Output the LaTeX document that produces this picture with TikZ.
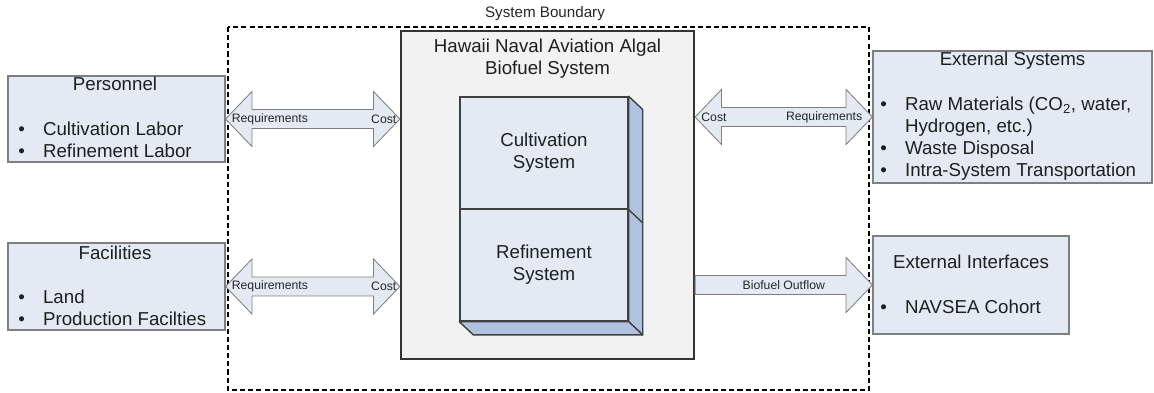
\documentclass[tikz,border=0pt]{standalone}
\usepackage{fontspec}
\setmainfont{Liberation Sans}
\usetikzlibrary{positioning, calc}
\definecolor{boxblue}{HTML}{E4EAF4}
\definecolor{sideblue}{HTML}{AFC3E0}
\definecolor{framegray}{HTML}{7F7F7F}
\definecolor{maingray}{HTML}{F2F2F2}
\definecolor{edgegray}{HTML}{404040}
% arrow sizes: head length, head half width, shaft half width
\newcommand{\ahlen}{0.66}
\newcommand{\ahwid}{0.6875}
\newcommand{\ashaft}{0.2375}
\newcommand{\bul}{\makebox[0.62cm][l]{\textbullet}}
\newcommand{\dblarrow}[2]{%
  \draw[fatarr] (#1) -- ($(#1)+(\ahlen,\ahwid)$) -- ($(#1)+(\ahlen,\ashaft)$)
    -- ($(#2)+(-\ahlen,\ashaft)$) -- ($(#2)+(-\ahlen,\ahwid)$) -- (#2)
    -- ($(#2)+(-\ahlen,-\ahwid)$) -- ($(#2)+(-\ahlen,-\ashaft)$)
    -- ($(#1)+(\ahlen,-\ashaft)$) -- ($(#1)+(\ahlen,-\ahwid)$) -- cycle;}
\newcommand{\sglarrow}[2]{%
  \draw[fatarr] ($(#1)+(0,\ashaft)$) -- ($(#2)+(-\ahlen,\ashaft)$)
    -- ($(#2)+(-\ahlen,\ahwid)$) -- (#2) -- ($(#2)+(-\ahlen,-\ahwid)$)
    -- ($(#2)+(-\ahlen,-\ashaft)$) -- ($(#1)+(0,-\ashaft)$) -- cycle;}
\tikzset{
  txt/.style={font=\fontsize{13.3}{15.6}\selectfont, text=black!88, inner sep=0pt},
  small/.style={font=\fontsize{8.7}{10}\selectfont, text=black!85, inner sep=0pt},
  outbox/.style={draw=framegray, line width=0.8pt, fill=boxblue},
  fatarr/.style={draw=framegray, line width=0.6pt, fill=boxblue},
  front/.style={draw=edgegray, line width=1pt, fill=boxblue, minimum width=4.2cm, minimum height=2.8cm, txt, align=center},
  side/.style={draw=edgegray, line width=1pt, fill=sideblue, line join=round}
}

\begin{document}
\begin{tikzpicture}
                \useasboundingbox (0,0) rectangle (28.85,-9.825);
                % system boundary
                \draw[dashed, dash pattern=on 3.6pt off 2.2pt, line width=0.9pt] (5.7,-0.675) rectangle (21.725,-9.75);
                \node[small, font=\fontsize{10.8}{12}\selectfont] (bound) at (13.625,-0.35) {System Boundary};
                % outside boxes
                \node[outbox, minimum width=5.425cm, minimum height=2.15cm] (pers) at (2.9125,-2.975) {};
                \node[txt] (perst) at (2.875,-2.1) {Personnel};
                \node[txt, anchor=west, align=left] (persl) at (0.45,-3.5) {\bul Cultivation Labor\\\bul Refinement Labor};
                \node[outbox, minimum width=5.425cm, minimum height=2.175cm] (fac) at (2.9125,-7.1625) {};
                \node[txt] (fact) at (2.875,-6.325) {Facilities};
                \node[txt, anchor=west, align=left] (facl) at (0.45,-7.7) {\bul Land\\\bul Production Facilties};
                \node[outbox, minimum width=6.975cm, minimum height=3.3cm] (ext) at (25.3125,-2.925) {};
                \node[txt] (extt) at (25.3125,-1.525) {External Systems};
                \node[txt, anchor=west, align=left] (extl) at (22.0,-3.475) {\bul Raw Materials (CO\textsubscript{2}, water,\\\hspace*{0.62cm}Hydrogen, etc.)\\\bul Waste Disposal\\\bul Intra-System Transportation};
                \node[outbox, minimum width=4.9cm, minimum height=2.45cm] (extif) at (24.275,-7.125) {};
                \node[txt] (extift) at (24.275,-6.55) {External Interfaces};
                \node[txt, anchor=west, align=left] (extifl) at (22.0,-7.675) {\bul NAVSEA Cohort};
                % main system
                \node[draw=black!80, line width=1.6pt, fill=maingray, minimum width=7.325cm, minimum height=8.2cm] (main) at (13.6875,-4.875) {};
                \node[txt, align=center] (maint) at (13.6875,-1.475) {Hawaii Naval Aviation Algal\\Biofuel System};
                \node[front] (cult) at (13.6,-3.825) {Cultivation\\System};
                \node[front] (ref) at (13.6,-6.625) {Refinement\\System};
                \draw[side] (cult.north east) -- ++(0.35,-0.33) -- ($(ref.south east)+(0.35,-0.33)$) -- (ref.south east) -- cycle;
                \draw[side] (ref.south west) -- ++(0.35,-0.33) -- ($(ref.south east)+(0.35,-0.33)$) -- (ref.south east) -- cycle;
                \draw[side] (cult.south east) -- ++(0.35,-0.33);
                % arrows
                \coordinate (a1) at (pers.east);
                \coordinate (b1) at (main.west |- pers.east);
                \coordinate (a2) at (fac.east);
                \coordinate (b2) at (main.west |- fac.east);
                \coordinate (a3) at (main.east |- ext.west);
                \coordinate (b3) at (ext.west);
                \coordinate (a4) at (main.east |- extif.west);
                \coordinate (b4) at (extif.west);
                \dblarrow{a1}{b1}
                \dblarrow{a2}{b2}
                \dblarrow{a3}{b3}
                \sglarrow{a4}{b4}
                \node[small, anchor=west] (req1) at ($(a1)+(0.15,0)$) {Requirements};
                \node[small, anchor=east] (cost1) at ($(b1)+(-0.08,0)$) {Cost};
                \node[small, anchor=west] (req2) at ($(a2)+(0.15,0)$) {Requirements};
                \node[small, anchor=east] (cost2) at ($(b2)+(-0.08,0)$) {Cost};
                \node[small, anchor=west] (cost3) at ($(a3)+(0.15,0)$) {Cost};
                \node[small, anchor=east] (req3) at ($(b3)+(-0.25,0)$) {Requirements};
                \node[small] (flow) at ($(a4)!0.5!(b4)$) {Biofuel Outflow};
            \end{tikzpicture}
\end{document}
